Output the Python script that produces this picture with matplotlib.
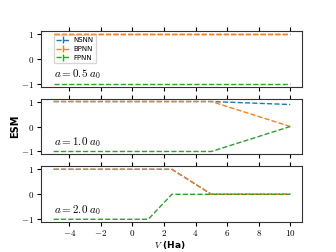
import matplotlib
matplotlib.use("Agg")
import matplotlib.pyplot as plt
import numpy as np

plt.rcParams['mathtext.fontset'] = 'cm'

V = [-5, -2.5, 0, 1, 2.5, 5, 7.5, 10]
series_names = ["NSNN", "BPNN", "FPNN"]
panel_labels = [r"$a = 0.5\ a_0$", r"$a = 1.0\ a_0$", r"$a = 2.0\ a_0$"]

# panel a = 0.5
nsnn_05 = [1, 1, 1, 1, 1, 1, 1, 1]
bpnn_05 = [1, 1, 1, 1, 1, 1, 1, 1]
fpnn_05 = [-1, -1, -1, -1, -1, -1, -1, -1]
# panel a = 1.0
nsnn_10 = [1, 1, 1, 1, 1, 1, 0.94, 0.88]
bpnn_10 = [1, 1, 1, 1, 1, 1, 0.5, 0]
fpnn_10 = [-1, -1, -1, -1, -1, -1, -0.5, 0]
# panel a = 2.0
nsnn_20 = [1, 1, 1, 1, 1, 0, 0, 0]
bpnn_20 = [1, 1, 1, 1, 1, 0, 0, 0]
fpnn_20 = [-1, -1, -1, -1, 0, 0, 0, 0]

panels = [
    [nsnn_05, bpnn_05, fpnn_05],
    [nsnn_10, bpnn_10, fpnn_10],
    [nsnn_20, bpnn_20, fpnn_20],
]

xticks = [-4, -2, 0, 2, 4, 6, 8, 10]
yticks = [-1, 0, 1]
colors = ["tab:blue", "tab:orange", "tab:green"]

fig = plt.figure(figsize=(3.36, 2.52), dpi=100)
bottoms = [0.655, 0.387, 0.118]
height = 0.222
axes = []
for i, (b, data) in enumerate(zip(bottoms, panels)):
    ax = fig.add_axes([0.122, b, 0.777, height])
    axes.append(ax)
    for name, vals, c in zip(series_names, data, colors):
        ax.errorbar(V, vals, yerr=np.zeros(len(vals)), color=c, ls='--',
                    lw=1.0, label=name)
    ax.set_ylim(-1.12, 1.12)
    ax.set_xlim(-5.8, 10.75)
    ax.set_yticks(yticks)
    ax.set_yticklabels([f"${t}$" for t in yticks], fontsize=6.5)
    ax.set_xticks(xticks)
    ax.tick_params(axis='x', top=True, bottom=True, direction='out', length=3, pad=1)
    ax.tick_params(axis='y', direction='out', length=3, pad=2)
    if i < 2:
        ax.set_xticklabels([])
    else:
        ax.set_xticklabels([f"${t}$" for t in xticks], fontsize=6.5)
    ax.text(0.05, 0.1, panel_labels[i], transform=ax.transAxes, fontsize=8,
            ha='left', va='bottom')
    for s in ax.spines.values():
        s.set_color('#333333')

axes[0].legend(loc='upper left', fontsize=5, bbox_to_anchor=(0.05, 0.93),
               handlelength=1.8, borderpad=0.35, labelspacing=0.4,
               handletextpad=0.7, borderaxespad=0.0)
fig.text(0.045, 0.5, "ESM", rotation=90, fontsize=7, fontweight='bold',
         ha='center', va='center')
fig.text(0.506, 0.004, r"$V$ (Ha)", fontsize=6.5, fontweight='bold',
         ha='center', va='bottom')

fig.savefig("out.png", dpi=100)
